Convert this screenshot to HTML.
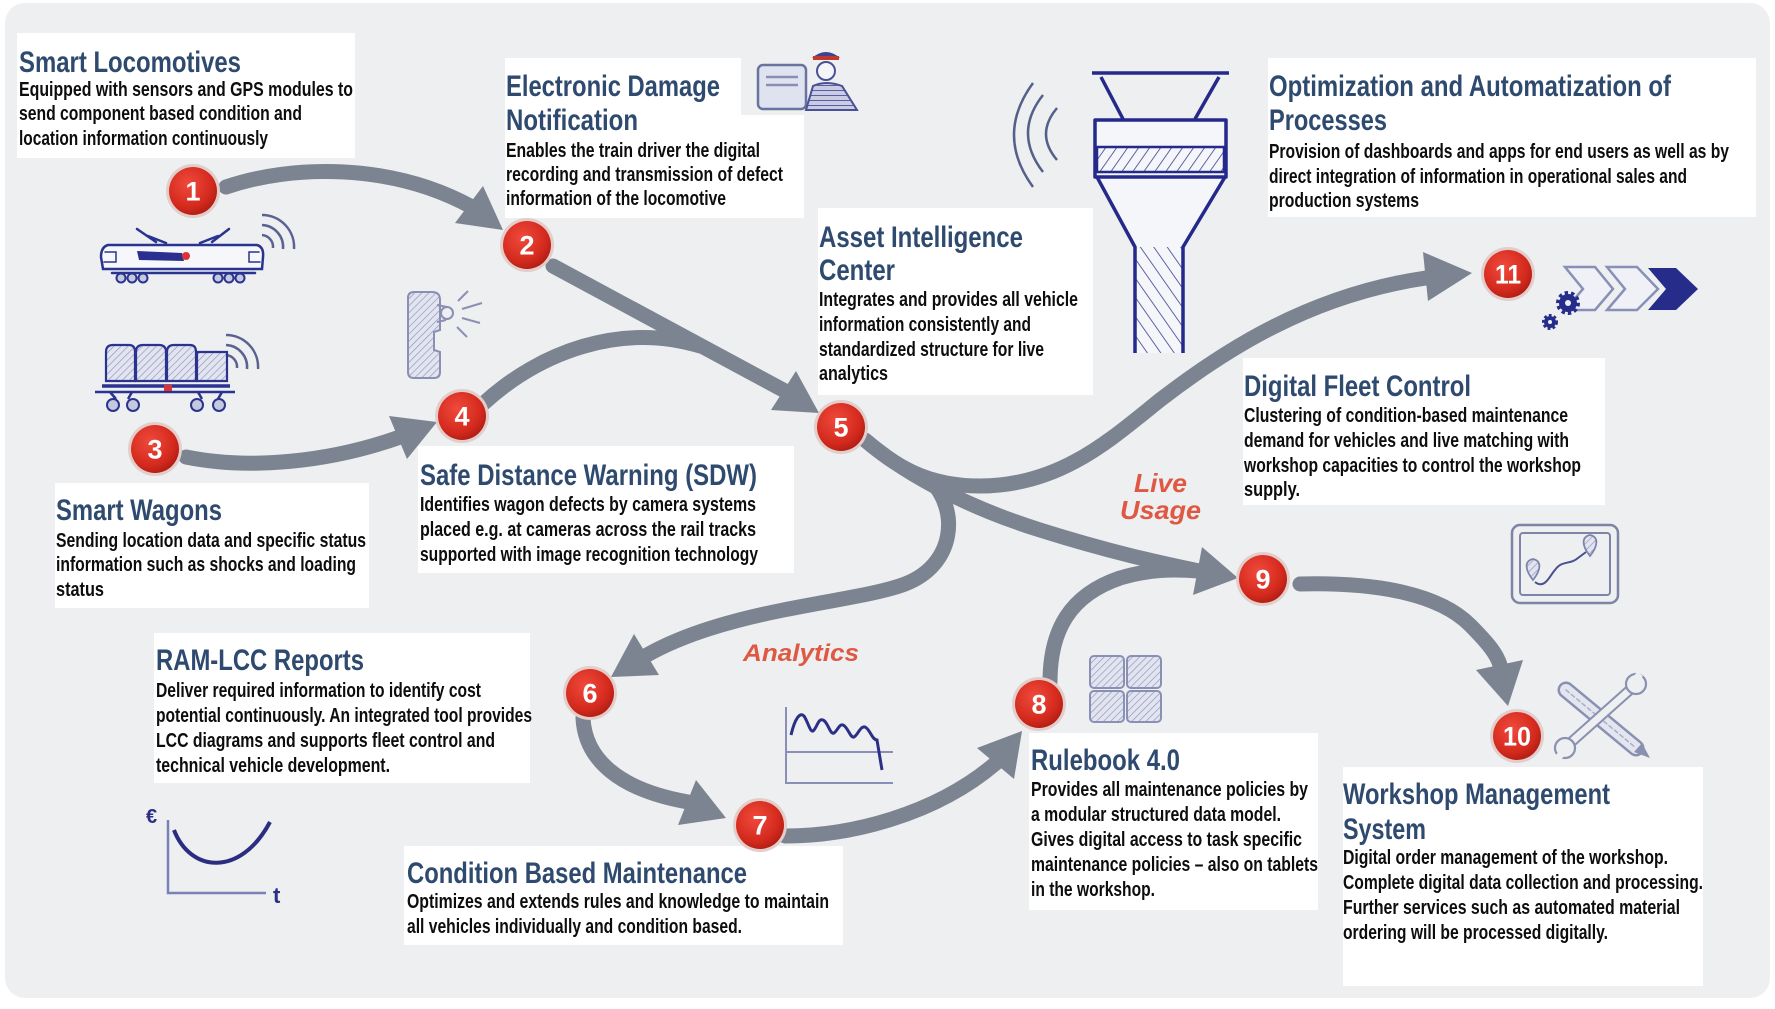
<!DOCTYPE html>
<html><head><meta charset="utf-8">
<style>
html,body{margin:0;padding:0;background:#fff;}
svg{display:block}
.t{font-family:'Liberation Sans Narrow','Liberation Sans',Arial,sans-serif;font-weight:bold;font-size:30px;fill:#2f4a6f}
.b{font-family:'Liberation Sans Narrow','Liberation Sans',Arial,sans-serif;font-weight:bold;font-size:20px;fill:#0d0d0d}
.r{font-family:'Liberation Sans',Arial,sans-serif;font-weight:bold;font-style:italic;fill:#df5843}
.n{font-family:'Liberation Sans',Arial,sans-serif;font-weight:bold;font-size:27px;fill:#fff;text-anchor:middle}
</style></head><body>
<svg width="1775" height="1009" viewBox="0 0 1775 1009" xmlns="http://www.w3.org/2000/svg">
<defs>
<radialGradient id="rg" cx="0.4" cy="0.35" r="0.7">
<stop offset="0" stop-color="#f04a3c"/><stop offset="0.7" stop-color="#d42a1e"/><stop offset="1" stop-color="#ae1c12"/>
</radialGradient>
<pattern id="hF" width="9" height="9" patternUnits="userSpaceOnUse" patternTransform="rotate(35)"><rect width="9" height="9" fill="#f5f6f9"/><line x1="0" y1="0" x2="0" y2="9" stroke="#3a3f90" stroke-width="1.6"/></pattern>
<pattern id="hS" width="11" height="11" patternUnits="userSpaceOnUse" patternTransform="rotate(-35)"><rect width="11" height="11" fill="#f5f6f9"/><line x1="0" y1="0" x2="0" y2="11" stroke="#3a3f90" stroke-width="1.6"/></pattern>
<pattern id="hL" width="5" height="5" patternUnits="userSpaceOnUse" patternTransform="rotate(45)"><rect width="5" height="5" fill="#e2e4ef"/><line x1="0" y1="0" x2="0" y2="5" stroke="#8d93ba" stroke-width="1.3"/></pattern>
<pattern id="hN" width="5" height="5" patternUnits="userSpaceOnUse" patternTransform="rotate(90)"><rect width="5" height="5" fill="#c9cce2"/><line x1="0" y1="0" x2="0" y2="5" stroke="#3d4390" stroke-width="1.6"/></pattern>
</defs>

<!-- panel -->
<rect x="5" y="3" width="1765" height="995" rx="20" fill="#edeff0"/>

<!-- ===== white boxes ===== -->
<g fill="#ffffff">
<rect x="17" y="33" width="338" height="125"/>
<rect x="505" y="58" width="236" height="60"/>
<rect x="505" y="115" width="299" height="103"/>
<rect x="818" y="208" width="275" height="187"/>
<rect x="1268" y="58" width="488" height="159"/>
<rect x="1243" y="358" width="362" height="147"/>
<rect x="55" y="483" width="314" height="125"/>
<rect x="418" y="446" width="376" height="127"/>
<rect x="154" y="633" width="376" height="150"/>
<rect x="404" y="846" width="439" height="99"/>
<rect x="1029" y="733" width="289" height="177"/>
<rect x="1343" y="767" width="360" height="219"/>
</g>

<!-- ===== arrows ===== -->
<g fill="none" stroke="#7b8490" stroke-width="15" stroke-linecap="round">
<path d="M226 187 C290 165 390 162 472 207"/>
<path d="M553 266 L785 391"/>
<path d="M484 403 C540 352 620 322 700 346"/>
<path d="M186 457 C250 470 330 462 400 437"/>
<path d="M865 440 C895 465 925 486 980 486 C1060 486 1110 440 1160 400 C1225 350 1310 295 1426 278"/>
<path d="M865 440 C900 470 960 505 1040 530 C1110 552 1160 563 1199 571"/>
<path d="M930 480 C960 510 955 565 905 584 C855 603 730 608 647 655"/>
<path d="M1050 682 C1050 630 1070 595 1120 578 C1150 569 1175 569 1199 571"/>
<path d="M1300 584 C1380 582 1440 595 1470 625 C1490 645 1497 655 1500 665"/>
<path d="M583 718 C585 760 620 790 688 802"/>
<path d="M785 836 C850 836 935 815 996 763"/>
</g>
<g fill="#7b8490">
<polygon points="503,230 483,186 455,223"/>
<polygon points="819,413 771,410 796,371"/>
<polygon points="437,422 407,459 389,416"/>
<polygon points="1472,273 1423,252 1428,301"/>
<polygon points="1238,578 1193,595 1202,547"/>
<polygon points="611,677 634,634 659,675"/>
<polygon points="1508,706 1476,670 1523,660"/>
<polygon points="726,818 678,825 696,780"/>
<polygon points="1022,731 1014,779 977,748"/>
</g>

<!-- ===== numbered circles ===== -->
<g>
<circle cx="193" cy="191" r="27" fill="#e3cdca"/><circle cx="193" cy="191" r="24" fill="url(#rg)"/><text class="n" x="193" y="200.5">1</text>
<circle cx="527" cy="245" r="27" fill="#e3cdca"/><circle cx="527" cy="245" r="24" fill="url(#rg)"/><text class="n" x="527" y="254.5">2</text>
<circle cx="155" cy="449" r="27" fill="#e3cdca"/><circle cx="155" cy="449" r="24" fill="url(#rg)"/><text class="n" x="155" y="458.5">3</text>
<circle cx="462" cy="416" r="27" fill="#e3cdca"/><circle cx="462" cy="416" r="24" fill="url(#rg)"/><text class="n" x="462" y="425.5">4</text>
<circle cx="841" cy="427" r="27" fill="#e3cdca"/><circle cx="841" cy="427" r="24" fill="url(#rg)"/><text class="n" x="841" y="436.5">5</text>
<circle cx="590" cy="693" r="27" fill="#e3cdca"/><circle cx="590" cy="693" r="24" fill="url(#rg)"/><text class="n" x="590" y="702.5">6</text>
<circle cx="760" cy="825" r="27" fill="#e3cdca"/><circle cx="760" cy="825" r="24" fill="url(#rg)"/><text class="n" x="760" y="834.5">7</text>
<circle cx="1039" cy="704" r="27" fill="#e3cdca"/><circle cx="1039" cy="704" r="24" fill="url(#rg)"/><text class="n" x="1039" y="713.5">8</text>
<circle cx="1263" cy="579" r="27" fill="#e3cdca"/><circle cx="1263" cy="579" r="24" fill="url(#rg)"/><text class="n" x="1263" y="588.5">9</text>
<circle cx="1517" cy="736" r="27" fill="#e3cdca"/><circle cx="1517" cy="736" r="24" fill="url(#rg)"/><text class="n" x="1517" y="745.5" textLength="28" lengthAdjust="spacingAndGlyphs">10</text>
<circle cx="1508" cy="274" r="27" fill="#e3cdca"/><circle cx="1508" cy="274" r="24" fill="url(#rg)"/><text class="n" x="1508" y="283.5" textLength="26" lengthAdjust="spacingAndGlyphs">11</text>
</g>

<!-- ===== icons ===== -->
<!-- locomotive -->
<g stroke="#2b3390" stroke-width="2.5" fill="none" stroke-linecap="round">
<path d="M108 245 L257 245 Q264 247 263 257 L262 269 L103 269 L101 257 Q101 247 108 245 Z" fill="#f6f7fa"/>
<path d="M137 229 L156 242 M229 229 L212 242 M148 236 L166 243 M200 243 L218 236"/>
<line x1="112" y1="273" x2="255" y2="273"/>
<path d="M105 252 L116 252 L116 262 L104 262 M259 252 L249 252 L249 262 L260 262" stroke-width="1.5"/>
</g>
<path d="M137 251 L182 253 L184 261 L139 260 Z" fill="#2b2f8f"/>
<circle cx="186" cy="256" r="4" fill="#d33"/>
<g stroke="#2b3390" stroke-width="2" fill="#c5c9de">
<circle cx="121" cy="278" r="4.5"/><circle cx="132" cy="278" r="4.5"/><circle cx="143" cy="278" r="4.5"/>
<circle cx="218" cy="278" r="4.5"/><circle cx="229" cy="278" r="4.5"/><circle cx="240" cy="278" r="4.5"/>
</g>
<g stroke="#5b6292" stroke-width="2.5" fill="none">
<path d="M262 235 A12 12 0 0 1 273 248"/>
<path d="M262 225 A22 22 0 0 1 283 249"/>
<path d="M262 215 A32 32 0 0 1 294 249"/>
<path d="M226 355 A12 12 0 0 1 237 368"/>
<path d="M226 345 A22 22 0 0 1 247 369"/>
<path d="M226 335 A32 32 0 0 1 258 369"/>
</g>
<!-- wagon -->
<g stroke="#2b3390" stroke-width="2.2" fill="url(#hL)">
<path d="M106 352 Q106 345 113 345 L129 345 Q135 345 135 352 L135 381 L106 381 Z"/>
<path d="M136 352 Q136 345 143 345 L159 345 Q166 345 166 352 L166 381 L136 381 Z"/>
<path d="M167 352 Q167 345 174 345 L190 345 Q196 345 196 352 L196 381 L167 381 Z"/>
<path d="M197 352 L227 352 L227 381 L197 381 Z"/>
</g>
<g stroke="#2b3390" stroke-width="2.5" fill="none">
<line x1="102" y1="386" x2="230" y2="386" stroke-width="3.5"/>
<line x1="95" y1="392" x2="235" y2="392"/>
<path d="M110 392 L116 399 M132 392 L128 399 M198 392 L202 399 M222 392 L218 399"/>
</g>
<rect x="164" y="385" width="8" height="6" fill="#d33"/>
<g stroke="#2b3390" stroke-width="2" fill="#c5c9de">
<circle cx="113" cy="405" r="6"/><circle cx="133" cy="405" r="6"/><circle cx="197" cy="405" r="6"/><circle cx="219" cy="405" r="6"/>
</g>
<!-- camera pole -->
<path d="M408 298 Q408 292 414 292 L432 292 Q440 292 440 300 L440 330 L434 332 L434 350 L440 352 L440 372 Q440 378 434 378 L414 378 Q408 378 408 372 Z" fill="url(#hL)" stroke="#8a8fb3" stroke-width="2"/>
<g stroke="#8a8fb3" stroke-width="2" fill="none">
<circle cx="447" cy="313" r="6"/>
<path d="M437 305 L447 307 M437 322 L446 320"/>
<path d="M458 301 L468 291 M462 309 L482 303 M462 318 L480 323 M457 327 L467 337"/>
</g>
<!-- driver icon -->
<rect x="758" y="65" width="48" height="44" rx="5" fill="#dfe3ef" stroke="#6a72a0" stroke-width="2.5"/>
<path d="M766 77 L798 77 M766 85 L798 85" stroke="#8a90b5" stroke-width="2.5"/>
<path d="M806 110 L813 86 Q826 80 842 86 L857 110 Z" fill="url(#hN)" stroke="#4a5095" stroke-width="2"/>
<circle cx="826" cy="71" r="9" fill="#f4f5f8" stroke="#4a5095" stroke-width="2"/>
<path d="M812 58 Q826 46 840 58 Z" fill="#3d4390"/>
<rect x="813" y="56" width="26" height="4" fill="#c0392b"/>
<!-- wifi near funnel -->
<g stroke="#55608a" stroke-width="2.5" fill="none">
<path d="M1033 83 Q995 135 1033 187"/>
<path d="M1043 95 Q1013 133 1043 172"/>
<path d="M1057 108 Q1035 134 1057 160"/>
</g>
<!-- funnel -->
<g stroke="#24298a" stroke-width="3.5" stroke-linejoin="round">
<path d="M1097 177 L1135 247 L1183 247 L1225 177 Z" fill="#f5f6f9" stroke="none"/>
<rect x="1135" y="247" width="48" height="106" fill="url(#hS)" stroke="none"/>
<rect x="1095" y="120" width="131" height="57" fill="#f5f6f9"/>
<rect x="1097" y="147" width="127" height="25" fill="url(#hF)" stroke-width="2.5"/>
<path d="M1092 73 L1229 73 M1101 77 L1123 119 M1219 77 L1195 119 M1097 177 L1135 247 L1135 353 M1225 177 L1183 247 L1183 353" fill="none"/>
</g>
<!-- gears & chevrons -->
<polygon points="1565,267 1595,267 1613,289 1595,310 1565,310 1583,289" fill="#f0f1f6" stroke="#8890b8" stroke-width="2.5"/>
<polygon points="1607,267 1637,267 1658,289 1637,310 1607,310 1625,289" fill="#f0f1f6" stroke="#8890b8" stroke-width="2.5"/>
<polygon points="1648,268 1676,268 1698,289 1676,310 1648,310 1666,289" fill="#262c8a"/>
<circle cx="1568" cy="303" r="9" fill="#262c8a" stroke="#262c8a" stroke-width="6" stroke-dasharray="3 2.6"/>
<circle cx="1568" cy="303" r="3" fill="#edeff0"/>
<circle cx="1550" cy="322" r="6" fill="#262c8a" stroke="#262c8a" stroke-width="4" stroke-dasharray="2.5 2"/>
<circle cx="1550" cy="322" r="2" fill="#edeff0"/>
<!-- tablet -->
<rect x="1512" y="525" width="106" height="78" rx="8" fill="none" stroke="#7d84a8" stroke-width="2.5"/>
<rect x="1520" y="533" width="90" height="62" rx="3" fill="none" stroke="#7d84a8" stroke-width="2"/>
<path d="M1535 582 C1545 590 1550 575 1555 570 C1562 560 1570 565 1578 558 L1586 552" fill="none" stroke="#4a5090" stroke-width="2"/>
<path d="M1533 580 C1525 570 1524 561 1533 559 C1542 561 1541 570 1533 580 Z" fill="url(#hL)" stroke="#7d84a8" stroke-width="1.8"/>
<path d="M1590 556 C1582 546 1581 537 1590 535 C1599 537 1598 546 1590 556 Z" fill="url(#hL)" stroke="#7d84a8" stroke-width="1.8"/>
<!-- tools -->
<g stroke-linecap="round">
<path d="M1566 690 L1636 748" stroke="#8a90b0" stroke-width="17"/>
<path d="M1566 690 L1636 748" stroke="#e4e6ef" stroke-width="12"/>
<path d="M1566 690 L1636 748" stroke="#a8adc8" stroke-width="1.5" stroke-dasharray="4 3"/>
<path d="M1568 745 L1632 688" stroke="#8a90b0" stroke-width="11"/>
<path d="M1568 745 L1632 688" stroke="#edeff0" stroke-width="7"/>
</g>
<circle cx="1636" cy="684" r="10" fill="#edeff0" stroke="#8a90b0" stroke-width="2.2"/>
<rect x="1633" y="672" width="7" height="12" fill="#edeff0" transform="rotate(40 1636 678)"/>
<circle cx="1565" cy="748" r="10" fill="#edeff0" stroke="#8a90b0" stroke-width="2.2"/>
<rect x="1558" y="748" width="7" height="12" fill="#edeff0" transform="rotate(40 1562 754)"/>
<polygon points="1642,743 1650,758 1634,752" fill="#8a90b0"/>
<!-- blocks -->
<g fill="url(#hL)" stroke="#8a90b5" stroke-width="2">
<rect x="1090" y="656" width="34" height="32" rx="4"/>
<rect x="1127" y="656" width="34" height="32" rx="4"/>
<rect x="1090" y="691" width="34" height="31" rx="4"/>
<rect x="1127" y="691" width="34" height="31" rx="4"/>
</g>
<!-- chart -->
<g fill="none">
<path d="M786 707 L786 783 L893 783 M786 752 L893 752" stroke="#8a8fb8" stroke-width="2"/>
<path d="M791 735 C795 718 800 712 804 716 C808 722 810 732 813 731 C817 728 818 718 823 720 C828 722 830 735 834 733 C838 730 839 724 843 725 C848 727 850 738 854 737 C858 735 860 726 865 727 C870 729 872 740 877 740 L882 770" stroke="#2b2f85" stroke-width="3"/>
</g>
<!-- euro curve -->
<text x="146" y="823" font-family="Liberation Sans, Arial, sans-serif" font-weight="bold" font-size="20" fill="#2b2f85">€</text>
<path d="M168 820 L168 893 L266 893" fill="none" stroke="#7c80b8" stroke-width="2.5"/>
<text x="273" y="903" font-family="Liberation Sans, Arial, sans-serif" font-weight="bold" font-size="22" fill="#2b2f85">t</text>
<path d="M174 830 C190 872 240 878 270 822" fill="none" stroke="#2b2d7f" stroke-width="4"/>

<!-- ===== red labels ===== -->
<text class="r" x="1134" y="492" font-size="26" textLength="53" lengthAdjust="spacingAndGlyphs">Live</text>
<text class="r" x="1120" y="519" font-size="26" textLength="81" lengthAdjust="spacingAndGlyphs">Usage</text>
<text class="r" x="743" y="661" font-size="24" textLength="116" lengthAdjust="spacingAndGlyphs">Analytics</text>

<!-- ===== texts ===== -->
<text class="t" x="19" y="72" textLength="222" lengthAdjust="spacingAndGlyphs">Smart Locomotives</text>
<text class="b" x="19" y="96" textLength="334" lengthAdjust="spacingAndGlyphs">Equipped with sensors and GPS modules to</text>
<text class="b" x="19" y="120" textLength="283" lengthAdjust="spacingAndGlyphs">send component based condition and</text>
<text class="b" x="19" y="145" textLength="249" lengthAdjust="spacingAndGlyphs">location information continuously</text>

<text class="t" x="506" y="96" textLength="214" lengthAdjust="spacingAndGlyphs">Electronic Damage</text>
<text class="t" x="506" y="130" textLength="132" lengthAdjust="spacingAndGlyphs">Notification</text>
<text class="b" x="506" y="157" textLength="254" lengthAdjust="spacingAndGlyphs">Enables the train driver the digital</text>
<text class="b" x="506" y="181" textLength="277" lengthAdjust="spacingAndGlyphs">recording and transmission of defect</text>
<text class="b" x="506" y="205" textLength="220" lengthAdjust="spacingAndGlyphs">information of the locomotive</text>

<text class="t" x="819" y="247" textLength="204" lengthAdjust="spacingAndGlyphs">Asset Intelligence</text>
<text class="t" x="819" y="280" textLength="76" lengthAdjust="spacingAndGlyphs">Center</text>
<text class="b" x="819" y="306" textLength="259" lengthAdjust="spacingAndGlyphs">Integrates and provides all vehicle</text>
<text class="b" x="819" y="331" textLength="212" lengthAdjust="spacingAndGlyphs">information consistently and</text>
<text class="b" x="819" y="356" textLength="225" lengthAdjust="spacingAndGlyphs">standardized structure for live</text>
<text class="b" x="819" y="380" textLength="69" lengthAdjust="spacingAndGlyphs">analytics</text>

<text class="t" x="1269" y="96" textLength="402" lengthAdjust="spacingAndGlyphs">Optimization and Automatization of</text>
<text class="t" x="1269" y="130" textLength="118" lengthAdjust="spacingAndGlyphs">Processes</text>
<text class="b" x="1269" y="158" textLength="460" lengthAdjust="spacingAndGlyphs">Provision of dashboards and apps for end users as well as by</text>
<text class="b" x="1269" y="183" textLength="418" lengthAdjust="spacingAndGlyphs">direct integration of information in operational sales and</text>
<text class="b" x="1269" y="207" textLength="150" lengthAdjust="spacingAndGlyphs">production systems</text>

<text class="t" x="1244" y="396" textLength="227" lengthAdjust="spacingAndGlyphs">Digital Fleet Control</text>
<text class="b" x="1244" y="422" textLength="324" lengthAdjust="spacingAndGlyphs">Clustering of condition-based maintenance</text>
<text class="b" x="1244" y="447" textLength="325" lengthAdjust="spacingAndGlyphs">demand for vehicles and live matching with</text>
<text class="b" x="1244" y="472" textLength="337" lengthAdjust="spacingAndGlyphs">workshop capacities to control the workshop</text>
<text class="b" x="1244" y="496" textLength="56" lengthAdjust="spacingAndGlyphs">supply.</text>

<text class="t" x="56" y="520" textLength="166" lengthAdjust="spacingAndGlyphs">Smart Wagons</text>
<text class="b" x="56" y="547" textLength="310" lengthAdjust="spacingAndGlyphs">Sending location data and specific status</text>
<text class="b" x="56" y="571" textLength="300" lengthAdjust="spacingAndGlyphs">information such as shocks and loading</text>
<text class="b" x="56" y="596" textLength="48" lengthAdjust="spacingAndGlyphs">status</text>

<text class="t" x="420" y="485" textLength="337" lengthAdjust="spacingAndGlyphs">Safe Distance Warning (SDW)</text>
<text class="b" x="420" y="511" textLength="336" lengthAdjust="spacingAndGlyphs">Identifies wagon defects by camera systems</text>
<text class="b" x="420" y="536" textLength="336" lengthAdjust="spacingAndGlyphs">placed e.g. at cameras across the rail tracks</text>
<text class="b" x="420" y="561" textLength="338" lengthAdjust="spacingAndGlyphs">supported with image recognition technology</text>

<text class="t" x="156" y="670" textLength="208" lengthAdjust="spacingAndGlyphs">RAM-LCC Reports</text>
<text class="b" x="156" y="697" textLength="325" lengthAdjust="spacingAndGlyphs">Deliver required information to identify cost</text>
<text class="b" x="156" y="722" textLength="376" lengthAdjust="spacingAndGlyphs">potential continuously. An integrated tool provides</text>
<text class="b" x="156" y="747" textLength="339" lengthAdjust="spacingAndGlyphs">LCC diagrams and supports fleet control and</text>
<text class="b" x="156" y="772" textLength="234" lengthAdjust="spacingAndGlyphs">technical vehicle development.</text>

<text class="t" x="407" y="883" textLength="340" lengthAdjust="spacingAndGlyphs">Condition Based Maintenance</text>
<text class="b" x="407" y="908" textLength="422" lengthAdjust="spacingAndGlyphs">Optimizes and extends rules and knowledge to maintain</text>
<text class="b" x="407" y="933" textLength="335" lengthAdjust="spacingAndGlyphs">all vehicles individually and condition based.</text>

<text class="t" x="1031" y="770" textLength="149" lengthAdjust="spacingAndGlyphs">Rulebook 4.0</text>
<text class="b" x="1031" y="796" textLength="277" lengthAdjust="spacingAndGlyphs">Provides all maintenance policies by</text>
<text class="b" x="1031" y="821" textLength="250" lengthAdjust="spacingAndGlyphs">a modular structured data model.</text>
<text class="b" x="1031" y="846" textLength="271" lengthAdjust="spacingAndGlyphs">Gives digital access to task specific</text>
<text class="b" x="1031" y="871" textLength="287" lengthAdjust="spacingAndGlyphs">maintenance policies – also on tablets</text>
<text class="b" x="1031" y="896" textLength="124" lengthAdjust="spacingAndGlyphs">in the workshop.</text>

<text class="t" x="1343" y="804" textLength="267" lengthAdjust="spacingAndGlyphs">Workshop Management</text>
<text class="t" x="1343" y="839" textLength="83" lengthAdjust="spacingAndGlyphs">System</text>
<text class="b" x="1343" y="864" textLength="325" lengthAdjust="spacingAndGlyphs">Digital order management of the workshop.</text>
<text class="b" x="1343" y="889" textLength="360" lengthAdjust="spacingAndGlyphs">Complete digital data collection and processing.</text>
<text class="b" x="1343" y="914" textLength="337" lengthAdjust="spacingAndGlyphs">Further services such as automated material</text>
<text class="b" x="1343" y="939" textLength="265" lengthAdjust="spacingAndGlyphs">ordering will be processed digitally.</text>
</svg>
</body></html>
